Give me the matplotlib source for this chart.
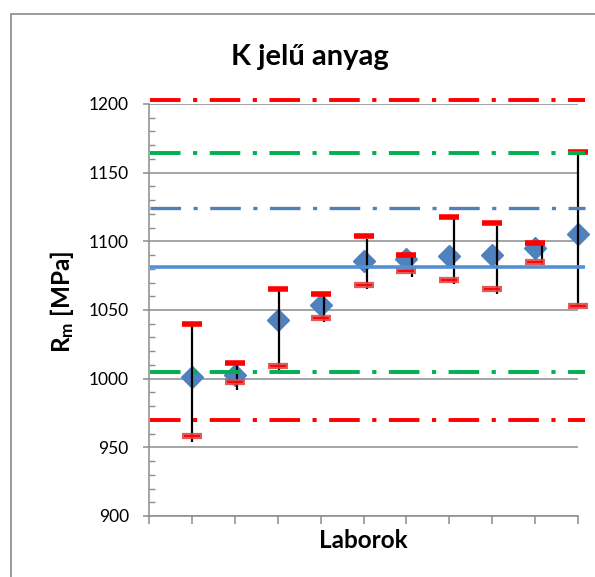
import matplotlib
matplotlib.use("Agg")
import matplotlib.pyplot as plt
from matplotlib.patches import Rectangle
from matplotlib.ticker import MultipleLocator

plt.rcParams['font.family'] = ['Lato', 'DejaVu Sans']
plt.rcParams['mathtext.fontset'] = 'custom'
plt.rcParams['mathtext.rm'] = 'Lato'
plt.rcParams['mathtext.bf'] = 'Lato:bold'
plt.rcParams['lines.scale_dashes'] = False

# laborok 1..10
labs = [1, 2, 3, 4, 5, 6, 7, 8, 9, 10]
atlag = [1001, 1003, 1043, 1054, 1085.5, 1087, 1089, 1090, 1095, 1105.5]
felso = [1040, 1011.5, 1065, 1061.5, 1104, 1090, 1118, 1113, 1099, 1165]
also = [958, 997.5, 1009.5, 1044.5, 1068, 1078.5, 1072, 1065.5, 1085, 1053]
# fekete terjedelem vonalak (kicsit eltolva)
terj_x = [1.0, 2.05, 3.03, 4.07, 5.08, 6.13, 7.1, 8.12, 9.15, 10.0]
terj_fel = [1038, 1010, 1064, 1060, 1102, 1089, 1117, 1111, 1098.5, 1165]
terj_le = [954, 992, 1006, 1041, 1065, 1074, 1069, 1062, 1083, 1053]

kozep = 1081.5
kek_hatar = 1124.5
zold = [1005, 1164]
piros = [970, 1203]

fig = plt.figure(figsize=(5.95, 5.77), dpi=100)
ax = fig.add_axes([149 / 595, 1 - 516 / 577, 429 / 595, 412 / 577])

# keret
fig.patches.append(Rectangle((11 / 595, -0.1), 1.2, 1.1 - 14 / 577, transform=fig.transFigure,
                             fill=False, edgecolor='#8a8a8a', lw=1.2))

ax.plot(labs, atlag, 'D', color='#4f81bd', ms=11, zorder=3, clip_on=False)
ax.vlines(terj_x, terj_le, terj_fel, color='black', lw=1.6, zorder=4, clip_on=False)
ax.plot(labs, felso, '_', color='#ff0000', ms=15, mew=4, zorder=5, clip_on=False)
ax.plot(labs, also, '_', color='#e04848', ms=15, mew=4.5, alpha=0.9, zorder=5, clip_on=False)
ax.plot(labs, also, '_', color='#ff0000', ms=11, mew=1.3, zorder=5, clip_on=False)

dd = (0, (22, 9, 3, 9))
x0, x1 = 0.02, 10.17
ax.plot([x0, x1], [kozep, kozep], color='#558ed5', lw=2.6, zorder=6, clip_on=False,
        solid_capstyle='butt')
ax.plot([x0, x1], [kek_hatar, kek_hatar], color='#4f81bd', lw=2.4, ls=dd, zorder=6,
        clip_on=False, dash_capstyle='butt')
for v in zold:
    ax.plot([x0, x1], [v, v], color='#00b050', lw=2.8, ls=dd, zorder=6, clip_on=False,
            dash_capstyle='butt')
for v in piros:
    ax.plot([x0, x1], [v, v], color='#ff0000', lw=2.8, ls=dd, zorder=6, clip_on=False,
            dash_capstyle='butt')

ax.set_xlim(0, 10)
ax.set_ylim(900, 1200)
ax.set_xticks(range(0, 11))
ax.set_xticklabels([])
ax.yaxis.set_major_locator(MultipleLocator(50))
ax.yaxis.set_minor_locator(MultipleLocator(10))
ax.grid(axis='y', which='major', color='#8c8c8c', lw=1.1)
ax.set_axisbelow(True)
for s in ['top', 'right']:
    ax.spines[s].set_visible(False)
for s in ['left', 'bottom']:
    ax.spines[s].set_color('#8c8c8c')
    ax.spines[s].set_linewidth(1.1)
ax.tick_params(axis='x', direction='out', length=6, width=1.1, color='#8c8c8c')
ax.tick_params(axis='y', which='major', direction='out', length=4.5, width=1.1,
               color='#8c8c8c', labelsize=12.5, pad=10)
ax.tick_params(axis='y', which='minor', direction='in', length=4, width=1.0, color='#8c8c8c')

fig.text(310 / 595, 1 - 57 / 577, 'K jelű anyag', ha='center', va='center',
         fontsize=21, fontweight='bold')
fig.text(363 / 595, 1 - 541 / 577, 'Laborok', ha='center', va='center',
         fontsize=17.5, fontweight='bold')
fig.text(62 / 595, 1 - 302 / 577, r'$\mathbf{R_m}$ [MPa]', ha='center', va='center',
         rotation=90, fontsize=17.5, fontweight='bold')

fig.savefig('out.png', dpi=100)
